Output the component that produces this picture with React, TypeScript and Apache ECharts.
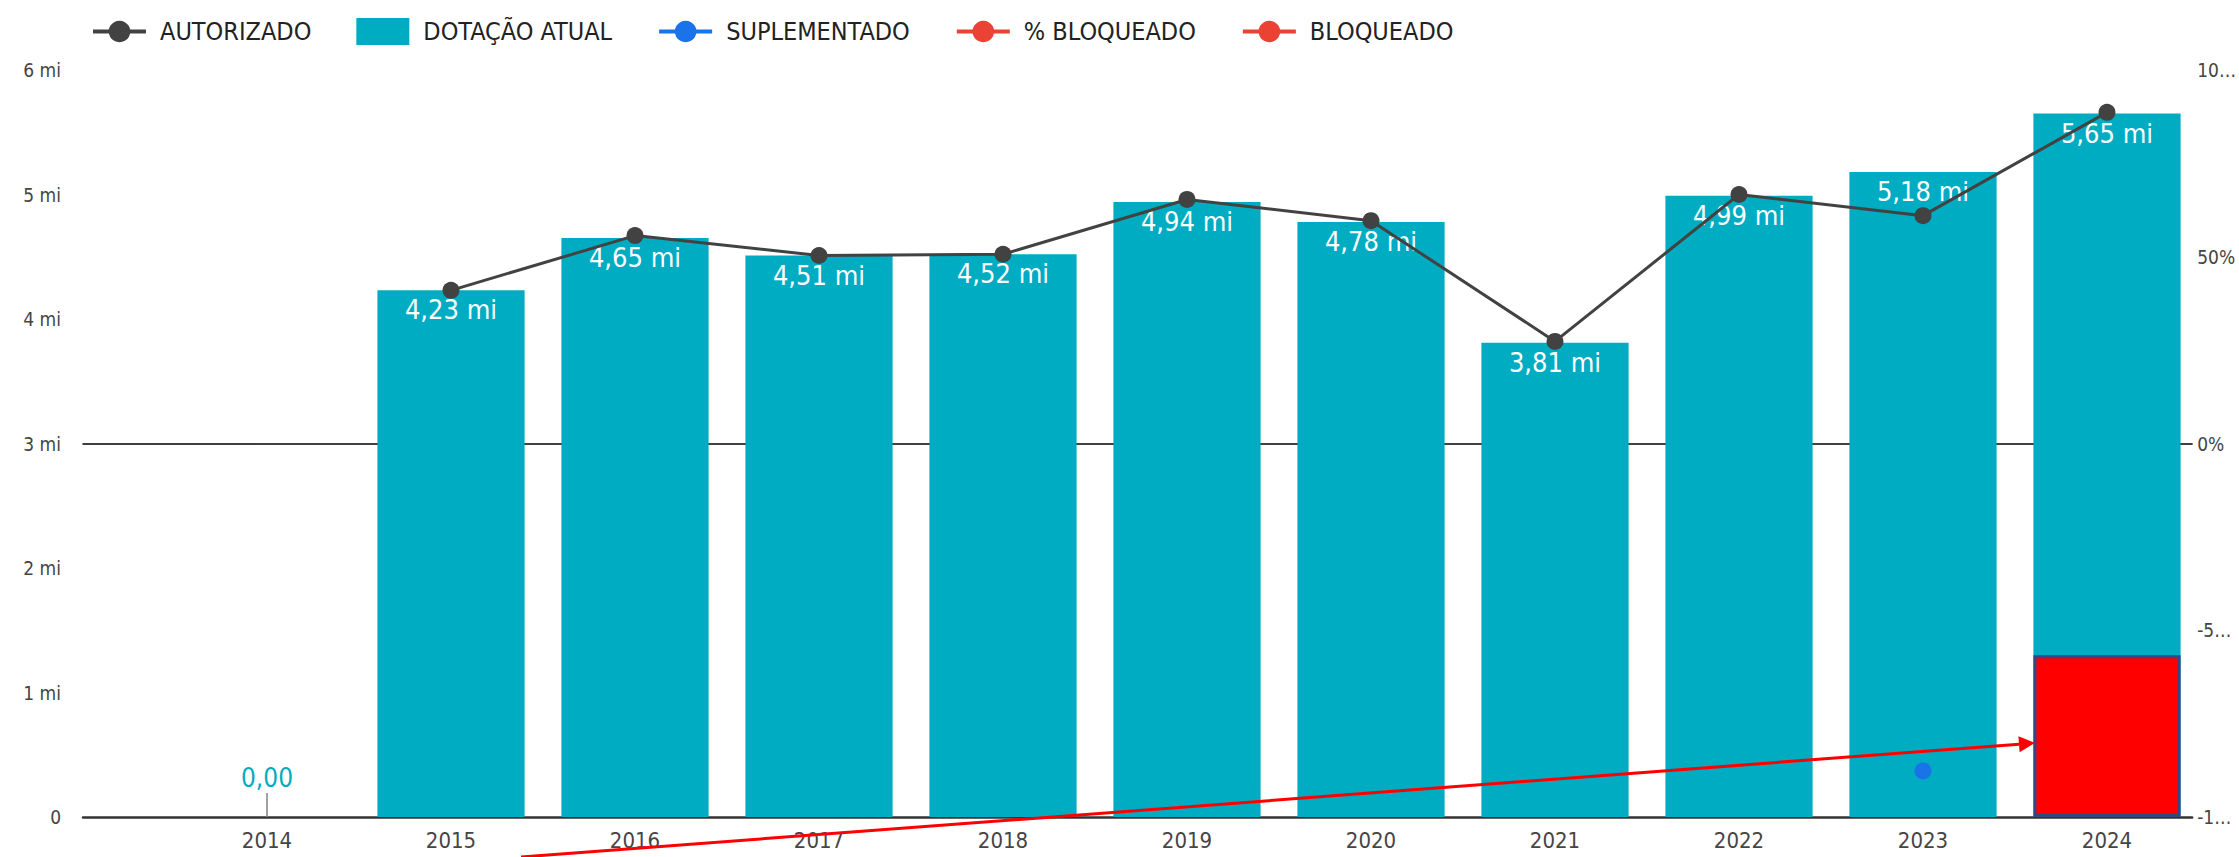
import React, { useEffect, useRef } from "react";
import * as echarts from "echarts";

const categories = ["2014", "2015", "2016", "2017", "2018", "2019", "2020", "2021", "2022", "2023", "2024"];
const dotacaoAtual = [0, 4.23, 4.65, 4.51, 4.52, 4.94, 4.78, 3.81, 4.99, 5.18, 5.65];
const autorizado = [null, 4.23, 4.67, 4.51, 4.52, 4.96, 4.79, 3.82, 5.0, 4.83, 5.66];
const suplementado = [null, null, null, null, null, null, null, null, null, 0.37, null];
const pctBloqueado = [null, null, null, null, null, null, null, null, null, null, null];
const bloqueado = [null, null, null, null, null, null, null, null, null, null, 1.3];
const leftTickLabels = ["0", "1 mi", "2 mi", "3 mi", "4 mi", "5 mi", "6 mi"];
const rightTickValues = [-100, -50, 0, 50, 100];
const rightTickLabels = ["-1…", "-5…", "0%", "50%", "10…"];
const legendNames = ["AUTORIZADO", "DOTAÇÃO ATUAL", "SUPLEMENTADO", "% BLOQUEADO", "BLOQUEADO"];

const FONT = "'Liberation Sans Narrow', 'DejaVu Sans Condensed', Roboto, sans-serif";
const TEAL = "#00acc1";
const GRAY = "#424242";
const BLUE = "#1a73e8";
const RED_LEGEND = "#ea4335";
const AXIS_TEXT = "#454545";

function fmtMi(v: number) {
  return v.toFixed(2).replace(".", ",") + " mi";
}

export default function App() {
  const ref = useRef<HTMLDivElement>(null);
  useEffect(() => {
    if (!ref.current) return;
    const chart = echarts.init(ref.current, null, { renderer: "svg" });
    const GL = 83, GR = 37, TOP = 70, BOTTOM = 40;
    const option: any = {
      animation: false,
      textStyle: { fontFamily: FONT },
      legend: {
        left: 86,
        top: 13,
        itemWidth: 53,
        itemHeight: 27,
        itemGap: 45,
        lineStyle: { width: 4 },
        data: legendNames.map((n) => (n === "DOTAÇÃO ATUAL" ? { name: n, icon: "rect" } : n)),
        textStyle: { fontFamily: FONT, fontSize: 25, color: "#222", padding: [0, 0, 0, 9] },
      },
      grid: [
        { left: GL, right: GR, top: TOP, bottom: BOTTOM },
        { left: 175, right: 40, top: TOP, bottom: BOTTOM },
      ],
      xAxis: [
        {
          type: "value", gridIndex: 0, min: 0, max: 1, show: true,
          axisLine: { show: true, onZero: true, onZeroAxisIndex: 0, lineStyle: { color: "#333", width: 2.5 } },
          axisTick: { show: false }, axisLabel: { show: false }, splitLine: { show: false },
        },
        {
          type: "value", gridIndex: 0, min: 0, max: 1, show: true,
          axisLine: { show: true, onZero: true, onZeroAxisIndex: 1, lineStyle: { color: "#000", width: 1.5 } },
          axisTick: { show: false }, axisLabel: { show: false }, splitLine: { show: false },
        },
        {
          type: "category", gridIndex: 1, data: categories,
          axisLine: { show: false }, axisTick: { show: false },
          axisLabel: { color: AXIS_TEXT, fontSize: 22, fontFamily: FONT, margin: 12 },
        },
      ],
      yAxis: [
        {
          type: "value", gridIndex: 0, min: 0, max: 6, interval: 1, position: "left",
          axisLine: { show: false }, axisTick: { show: false }, splitLine: { show: false },
          axisLabel: {
            color: AXIS_TEXT, fontSize: 19, fontFamily: FONT, margin: 22,
            formatter: (v: number) => leftTickLabels[Math.round(v)] ?? "",
          },
        },
        {
          type: "value", gridIndex: 0, min: -100, max: 100, interval: 50, position: "right",
          axisLine: { show: false }, axisTick: { show: false }, splitLine: { show: false },
          axisLabel: {
            color: AXIS_TEXT, fontSize: 19, fontFamily: FONT, margin: 5,
            formatter: (v: number) => rightTickLabels[rightTickValues.indexOf(Math.round(v))] ?? "",
          },
        },
        { type: "value", gridIndex: 1, min: 0, max: 6, show: false },
        { type: "value", gridIndex: 1, min: -100, max: 100, show: false },
      ],
      series: [
        {
          name: "DOTAÇÃO ATUAL",
          type: "bar",
          xAxisIndex: 2,
          yAxisIndex: 2,
          barCategoryGap: "20%",
          itemStyle: { color: TEAL },
          z: 2,
          label: {
            show: true,
            position: "insideTop",
            distance: 6,
            color: "#fff",
            fontSize: 27,
            fontWeight: 500,
            fontFamily: FONT,
            formatter: (p: any) => (p.value === 0 ? "0,00" : fmtMi(p.value)),
          },
          data: dotacaoAtual.map((v) =>
            v === 0
              ? { value: v, label: { position: "top", color: TEAL, distance: 26, fontSize: 26, fontWeight: "normal" } }
              : v
          ),
        },
        {
          name: "AUTORIZADO",
          type: "line",
          xAxisIndex: 2,
          yAxisIndex: 2,
          z: 5,
          symbol: "circle",
          symbolSize: 17,
          lineStyle: { color: GRAY, width: 3 },
          itemStyle: { color: GRAY },
          data: autorizado,
        },
        {
          name: "SUPLEMENTADO",
          type: "line",
          xAxisIndex: 2,
          yAxisIndex: 2,
          z: 5,
          symbol: "circle",
          symbolSize: 17,
          lineStyle: { color: BLUE, width: 3 },
          itemStyle: { color: BLUE },
          data: suplementado,
        },
        {
          name: "% BLOQUEADO",
          type: "line",
          xAxisIndex: 2,
          yAxisIndex: 3,
          symbol: "circle",
          symbolSize: 17,
          lineStyle: { color: RED_LEGEND, width: 3 },
          itemStyle: { color: RED_LEGEND },
          data: pctBloqueado,
        },
        {
          name: "BLOQUEADO",
          type: "line",
          xAxisIndex: 2,
          yAxisIndex: 2,
          symbol: "circle",
          symbolSize: 17,
          lineStyle: { color: RED_LEGEND, width: 3 },
          itemStyle: { color: RED_LEGEND },
          data: bloqueado.map(() => null),
        },
        {
          name: "BLOQUEADO",
          type: "bar",
          xAxisIndex: 2,
          yAxisIndex: 2,
          barGap: "-100%",
          barCategoryGap: "20%",
          z: 3,
          itemStyle: { color: "#ff0000", borderColor: "#2f4a80", borderWidth: 3 },
          data: bloqueado,
        },
        {
          name: "marcador",
          type: "scatter",
          xAxisIndex: 2,
          yAxisIndex: 2,
          symbol: "rect",
          symbolSize: [2, 24],
          symbolOffset: [0, -12],
          itemStyle: { color: "#8a8a8a" },
          silent: true,
          z: 4,
          data: dotacaoAtual.map((v, i) => (v === 0 ? [i, 0] : null)).filter((d) => d !== null),
        },
      ],
      graphic: [
        {
          type: "line",
          shape: { x1: 521, y1: 857, x2: 2019, y2: 744.2 },
          style: { stroke: "#ff0000", lineWidth: 3 },
          z: 100,
        },
        {
          type: "polygon",
          shape: { points: [[2035, 743], [2019.6, 752.2], [2018.4, 736.2]] },
          style: { fill: "#ff0000" },
          z: 100,
        },
      ],
    };
    chart.setOption(option);
    return () => chart.dispose();
  }, []);
  return (
    <div
      ref={ref}
      style={{ position: "absolute", left: 0, top: 0, width: 2239, height: 857, background: "#fff" }}
    />
  );
}
